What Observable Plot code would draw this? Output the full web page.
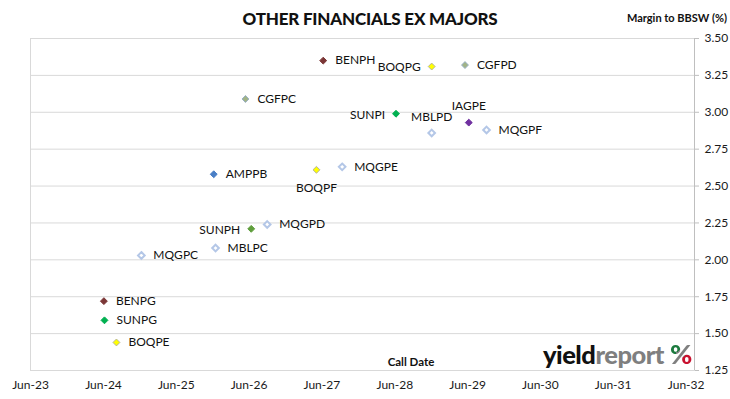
<!DOCTYPE html>
<html>
<head>
<meta charset="utf-8">
<script src="https://cdn.jsdelivr.net/npm/d3@7"></script>
<script src="https://cdn.jsdelivr.net/npm/@observablehq/plot@0.6"></script>
<style>
  html, body { margin: 0; padding: 0; background: #fff; }
  #wrap { position: relative; width: 730px; height: 399px; font-family: Lato, "Open Sans", sans-serif; }
  #wrap svg { position: absolute; left: 0; top: 0; }
  .abs { position: absolute; white-space: nowrap; color: #111; }
  #title { left: 170px; width: 400px; top: 10px; text-align: center; font-weight: 900; font-size: 17px; line-height: 17px; letter-spacing: -0.2px; }
  #ylab { right: 3px; top: 12px; font-weight: 700; font-size: 11px; line-height: 11px; }
  #xlab { left: 361px; width: 100px; top: 356px; text-align: center; font-weight: 700; font-size: 11.5px; line-height: 12px; }
  #logo { left: 543px; top: 341px; font-weight: 900; font-size: 25.5px; line-height: 25px; letter-spacing: -0.5px; }
  #logo .y { color: #111; }
  #logo .r { color: #7f7f7f; }
  #logo .p { margin-left: 6px; font-size: 27px; background: linear-gradient(135deg, #1b7a3e 0 40%, #7f7f7f 40% 60%, #c8102e 60% 100%); -webkit-background-clip: text; background-clip: text; color: transparent; }
</style>
</head>
<body>
<div id="wrap">
  <div class="abs" id="title">OTHER FINANCIALS EX MAJORS</div>
  <div class="abs" id="ylab">Margin to BBSW (%)</div>
  <div class="abs" id="xlab">Call Date</div>
  <div class="abs" id="logo"><span class="y">yield</span><span class="r">report</span><span class="p">%</span></div>
</div>
<script>
// ---- data ----
const codes = ["BENPG","SUNPG","BOQPE","MQGPC","AMPPB","MBLPC","CGFPC","SUNPH","MQGPD","BOQPF","BENPH","MQGPE","SUNPI","BOQPG","MBLPD","CGFPD","IAGPE","MQGPF"];
const callDates = ["2024-06-03","2024-06-06","2024-08-05","2024-12-08","2025-12-06","2025-12-15","2026-05-14","2026-06-12","2026-08-31","2027-05-05","2027-06-08","2027-09-11","2028-06-07","2028-12-03","2028-12-03","2029-05-19","2029-06-07","2029-09-04"];
const margins = [1.72,1.59,1.44,2.03,2.58,2.08,3.09,2.21,2.24,2.61,3.35,2.63,2.99,3.31,2.86,3.32,2.93,2.88];
const yTicks = [1.25,1.50,1.75,2.00,2.25,2.50,2.75,3.00,3.25,3.50];
const xTickDates = ["2023-06-01","2024-06-01","2025-06-01","2026-06-01","2027-06-01","2028-06-01","2029-06-01","2030-06-01","2031-06-01","2032-06-01"];
const xDomain = ["2023-06-01","2032-07-13"];

// ---- styles ----
const hollowStyle = {fill: "#ffffff", stroke: "#b4c7e7"};
const pointStyle = {
  BENPG: {fill: "#7b3636", stroke: "#7b3636"},
  BENPH: {fill: "#7b3636", stroke: "#7b3636"},
  SUNPG: {fill: "#00b050", stroke: "#00b050"},
  SUNPI: {fill: "#00b050", stroke: "#00b050"},
  SUNPH: {fill: "#5f9e3c", stroke: "#5f9e3c"},
  BOQPE: {fill: "#ffff00", stroke: "#b5b59a"},
  BOQPF: {fill: "#ffff00", stroke: "#b5b59a"},
  BOQPG: {fill: "#ffff00", stroke: "#b5b59a"},
  CGFPC: {fill: "#a2b486", stroke: "#98b0c6"},
  CGFPD: {fill: "#a2b486", stroke: "#98b0c6"},
  AMPPB: {fill: "#4a7fc6", stroke: "#4a7fc6"},
  IAGPE: {fill: "#7030a0", stroke: "#7030a0"}
};
const labelPlace = {BOQPG: "left", SUNPI: "left", SUNPH: "left", MBLPD: "above", IAGPE: "above", BOQPF: "below"};

const data = codes.map((code, i) => ({code, date: new Date(callDates[i]), margin: margins[i]}));
const isHollow = d => !(d.code in pointStyle);
const place = d => labelPlace[d.code] || "right";

const chart = Plot.plot({
  width: 730,
  height: 399,
  marginTop: 38,
  marginBottom: 29,
  marginLeft: 30,
  marginRight: 36,
  style: {fontFamily: "Lato, 'Open Sans', sans-serif", fontSize: "12px", background: "transparent", color: "#1a1a1a"},
  x: {type: "utc", domain: xDomain.map(s => new Date(s))},
  y: {domain: [yTicks[0], yTicks[yTicks.length - 1]]},
  color: {type: "identity"},
  marks: [
    Plot.gridY(yTicks, {stroke: "#d9d9d9", strokeOpacity: 1}),
    Plot.frame({stroke: "#d9d9d9"}),
    Plot.ruleX([new Date(xDomain[1])], {stroke: "#bfbfbf"}),
    Plot.axisY(yTicks, {anchor: "right", tickSize: 4, tickPadding: 6, tickFormat: d3.format(".2f"), stroke: "#bfbfbf", fill: "#1a1a1a", label: null, fontSize: 12}),
    Plot.axisX(xTickDates.map(s => new Date(s)), {anchor: "bottom", tickSize: 0, tickPadding: 10, tickFormat: d3.utcFormat("%b-%y"), fill: "#1a1a1a", label: null, fontSize: 12}),
    Plot.dot(data.filter(d => !isHollow(d)), {x: "date", y: "margin", symbol: "diamond2", r: 3.1, fill: d => pointStyle[d.code].fill, stroke: d => pointStyle[d.code].stroke, strokeWidth: 1}),
    Plot.dot(data.filter(isHollow), {x: "date", y: "margin", symbol: "diamond2", r: 3.0, fill: hollowStyle.fill, stroke: hollowStyle.stroke, strokeWidth: 2}),
    Plot.text(data.filter(d => place(d) === "right"), {x: "date", y: "margin", text: "code", textAnchor: "start", dx: 12, fill: "#111"}),
    Plot.text(data.filter(d => place(d) === "left"), {x: "date", y: "margin", text: "code", textAnchor: "end", dx: -11, dy: 1, fill: "#111"}),
    Plot.text(data.filter(d => place(d) === "above"), {x: "date", y: "margin", text: "code", textAnchor: "middle", dy: -16, fill: "#111"}),
    Plot.text(data.filter(d => place(d) === "below"), {x: "date", y: "margin", text: "code", textAnchor: "middle", dy: 18, fill: "#111"})
  ]
});
document.getElementById("wrap").prepend(chart);
</script>
</body>
</html>
